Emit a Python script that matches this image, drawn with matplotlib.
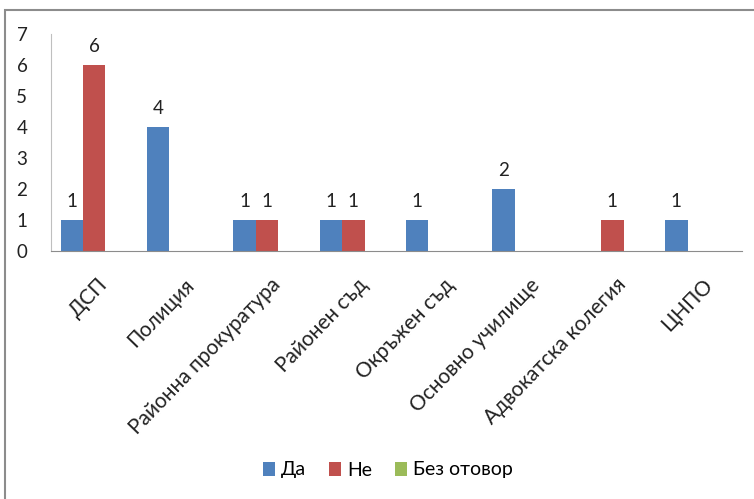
import matplotlib
matplotlib.use("Agg")
import matplotlib.pyplot as plt
import numpy as np
from matplotlib.patches import Rectangle

categories = ["ДСП", "Полиция", "Районна прокуратура", "Районен съд",
              "Окръжен съд", "Основно училище", "Адвокатска колегия", "ЦНПО"]
series_names = ["Да", "Не", "Без отовор"]
da = [1, 4, 1, 1, 1, 2, 0, 1]
ne = [6, 0, 1, 1, 0, 0, 1, 0]
bez = [0, 0, 0, 0, 0, 0, 0, 0]
colors = ["#4F81BD", "#C0504D", "#9BBB59"]

plt.rcParams['font.family'] = ['Lato', 'DejaVu Sans']

fig = plt.figure(figsize=(7.54, 4.99), dpi=100)
fig.patches.append(Rectangle((5/754, -0.01), 1.0, 1 - 10/499 + 0.01, transform=fig.transFigure,
                             fill=False, edgecolor="#8c8c8c", linewidth=1.5))

ax = fig.add_axes([51/754, (499-251)/499, (742-51)/754, (251-34)/499])
x = np.arange(len(categories))
w = 0.26
for i, (vals, c, name) in enumerate(zip([da, ne, bez], colors, series_names)):
    pos = x + (i - 1) * w
    bars = ax.bar(pos, vals, width=w, color=c, label=name)
    for p, v in zip(pos, vals):
        if v > 0:
            ax.annotate(str(v), (p, v), xytext=(0, 7), textcoords="offset points",
                        ha="center", va="bottom", fontsize=13.5, color="#222222")

ax.set_xlim(-0.5, len(categories) - 0.5)
ax.set_ylim(0, 7)
ax.set_yticks(range(0, 8))
ax.tick_params(axis='y', length=0, labelsize=13.5, pad=17, colors="#222222")
ax.tick_params(axis='x', length=0, labelsize=15, pad=17, colors="#222222")
ax.set_xticks(x + 0.04)
ax.set_xticklabels(categories, rotation=46, ha="right", rotation_mode="anchor")
for s in ["top", "right"]:
    ax.spines[s].set_visible(False)
ax.spines["left"].set_color("#bfbfbf")
ax.spines["bottom"].set_color("#8c8c8c")

leg = fig.legend(loc="center", bbox_to_anchor=(388/754, 1 - 470/499), ncol=3, frameon=False,
                 fontsize=14, handlelength=0.6, handleheight=0.7, handletextpad=0.3,
                 columnspacing=1.2)

fig.savefig("out.png", dpi=100)
